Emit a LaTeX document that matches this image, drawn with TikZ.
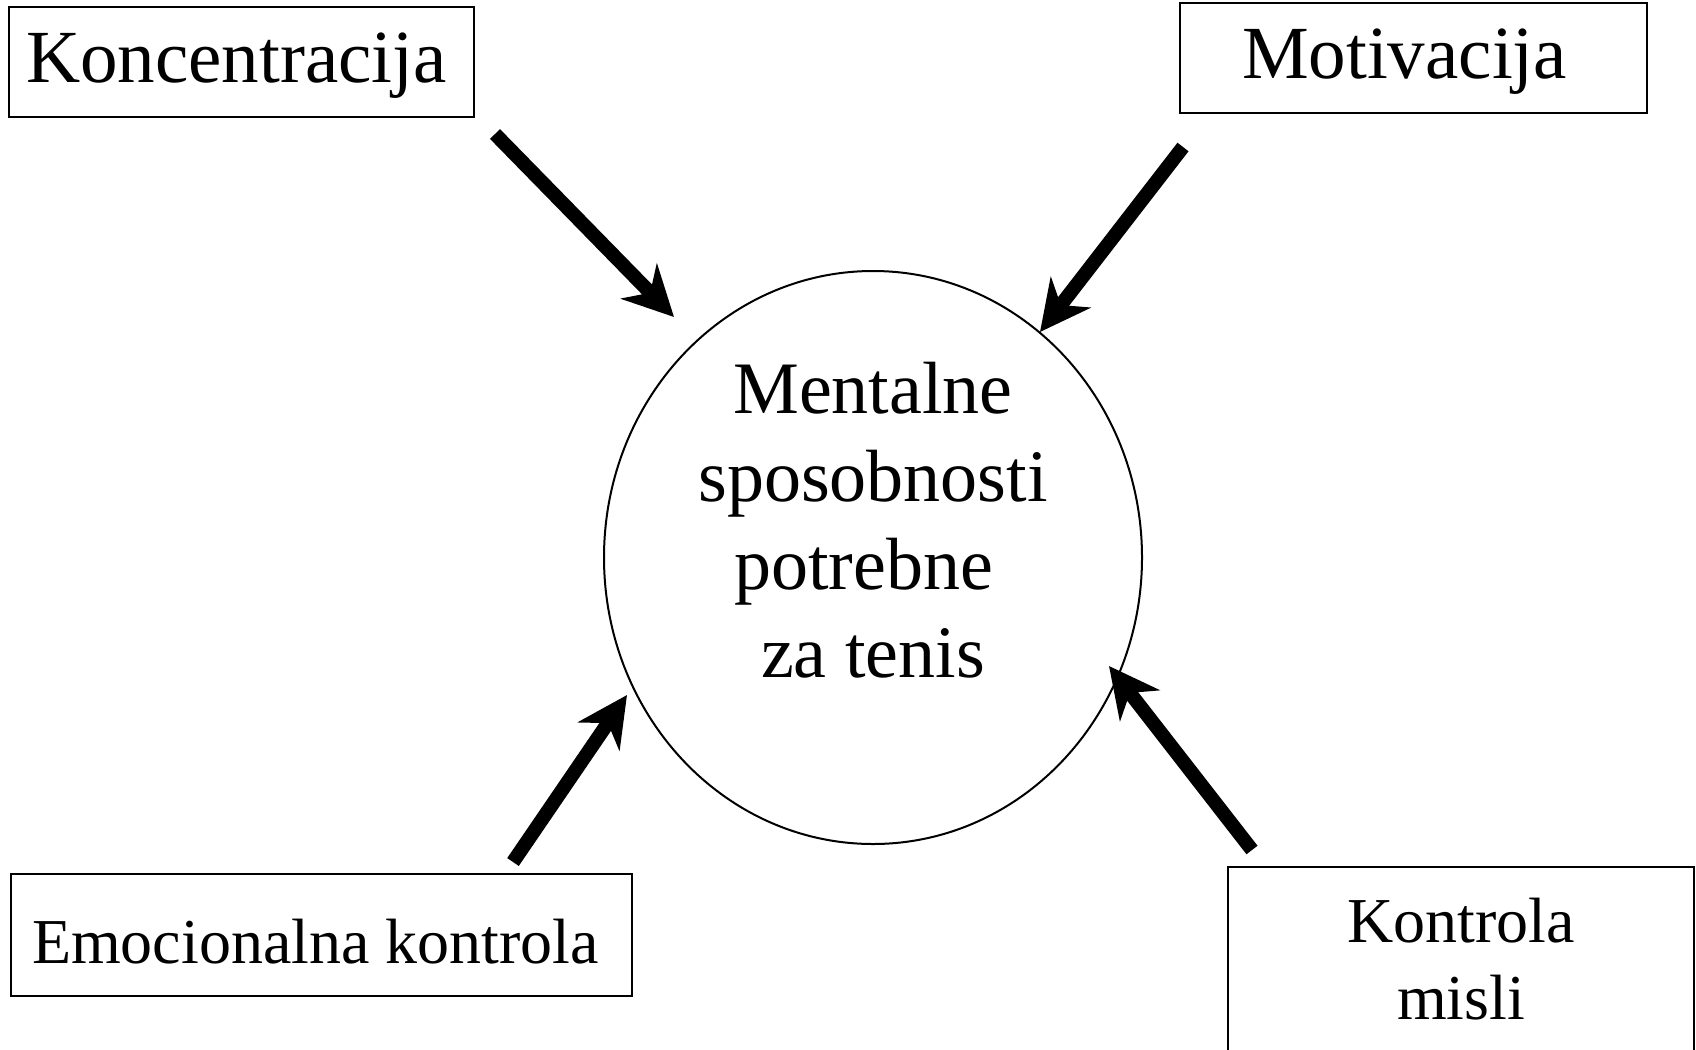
\documentclass[tikz,border=0pt]{standalone}
\usepackage{fontspec}
\setmainfont{Liberation Serif}
\usetikzlibrary{shapes.geometric, arrows.meta, positioning}

\begin{document}
\begin{tikzpicture}[x=0.5pt, y=-0.5pt,
          okvir/.style={draw, line width=1pt, inner sep=0pt, font=\fontsize{37.5}{44}\selectfont},
          veliki/.style={okvir, text height=28.3pt, text depth=8pt},
          maliokvir/.style={okvir, align=center, font=\fontsize{32}{38.5}\selectfont},
          strelica/.style={line width=7pt, -{Stealth[length=25pt, width=25pt, inset=8pt]}}]
        \useasboundingbox (0,0) rectangle (1696,1049);
        \node[draw, ellipse, line width=1pt, inner sep=0pt, minimum width=269pt, minimum height=286.5pt] (sposobnosti) at (873,557.5) {};
        \node[align=center, font=\fontsize{37}{44}\selectfont] (sposobnosti_text) at (873,520) {Mentalne\\sposobnosti\\potrebne\kern0.25em\\za tenis};
        \node[veliki, minimum width=232.5pt, minimum height=55pt] (koncentracija) at (241.5,61.7) {Koncentracija\kern5pt};
        \node[veliki, minimum width=233.5pt, minimum height=55pt] (motivacija) at (1413.5,58) {Motivacija\kern9pt};
        \node[maliokvir, text height=28pt, text depth=0pt, minimum width=310.5pt, minimum height=61pt] (emocije) at (321.5,935) {Emocionalna kontrola\kern6pt};
        \node[maliokvir, minimum width=233pt, minimum height=92pt] (misli) at (1461,959) {Kontrola\\misli};
        \coordinate (k0) at (495,134);  \coordinate (k1) at (674,317);
        \coordinate (m0) at (1183,147); \coordinate (m1) at (1040,332);
        \coordinate (e0) at (513,862);  \coordinate (e1) at (627,695);
        \coordinate (t0) at (1252,850); \coordinate (t1) at (1109,666);
        \draw[strelica] (k0) -- (k1);
        \draw[strelica] (m0) -- (m1);
        \draw[strelica] (e0) -- (e1);
        \draw[strelica] (t0) -- (t1);
      \end{tikzpicture}
\end{document}
